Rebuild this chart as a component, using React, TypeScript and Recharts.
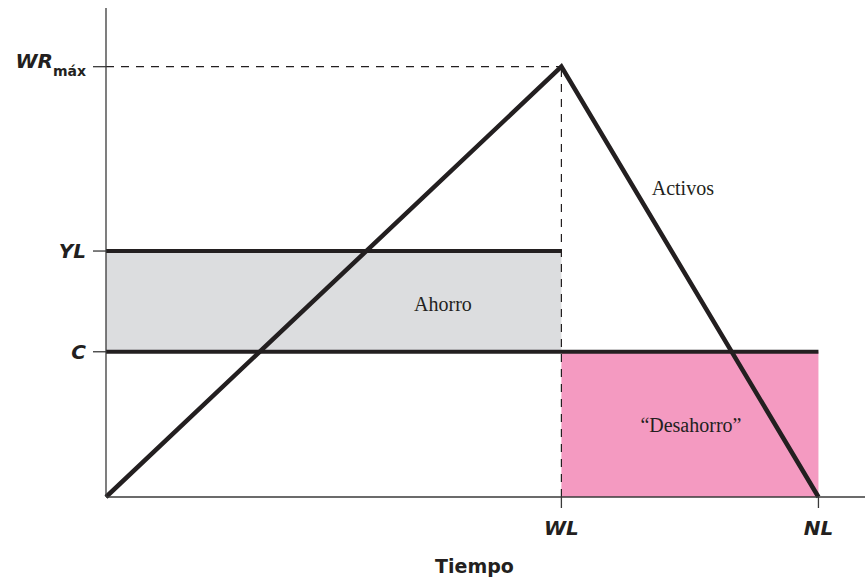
import {
  ComposedChart,
  Line,
  ReferenceArea,
  ReferenceDot,
  ReferenceLine,
  XAxis,
  YAxis
} from "recharts";

// time axis (years) and stock of wealth levels
const WL = 45;
const NL = 70.4;
const T_MAX = 75;

const WR_MAX = 88;
const YL = 50.3;
const C = 29.7;

const assetT = [0, WL, NL];
const assetW = [0, WR_MAX, 0];

const xTicks = [WL, NL];
const xTickNames = ["WL", "NL"];
const yTicks = [C, YL, WR_MAX];
const yTickNames = ["C", "YL", "WR"];

// annotation anchors, in data units
const notes = [
  { text: "Activos", t: 57, v: 63.2 },
  { text: "Ahorro", t: 33.3, v: 39.5 },
  { text: "\u201cDesahorro\u201d", t: 57.8, v: 14.7 }
];

const INK = "#231f20";
const AXIS = "#3a3a3a";
const SANS = "'DejaVu Sans', Lato, sans-serif";
const SERIF = "'Liberation Serif', 'DejaVu Serif', serif";

const data = assetT.map((t, i) => ({ t, w: assetW[i] }));

function YTick(props: any) {
  const { x, y, payload } = props;
  const idx = yTicks.indexOf(payload.value);
  const name = yTickNames[idx] ?? "";
  if (name === "WR") {
    return (
      <text x={x} y={y + 1} textAnchor="end" fill={INK} fontFamily={SANS} fontWeight={700}>
        <tspan fontSize={20} fontStyle="italic">WR</tspan>
        <tspan fontSize={14} dy={8}>máx</tspan>
      </text>
    );
  }
  return (
    <text
      x={x}
      y={y}
      dy={7}
      textAnchor="end"
      fill={INK}
      fontFamily={SANS}
      fontSize={20}
      fontWeight={700}
      fontStyle="italic"
    >
      {name}
    </text>
  );
}

function XTick(props: any) {
  const { x, y, payload } = props;
  const idx = xTicks.indexOf(payload.value);
  return (
    <text
      x={x}
      y={y}
      dy={19}
      textAnchor="middle"
      fill={INK}
      fontFamily={SANS}
      fontSize={20}
      fontWeight={700}
      fontStyle="italic"
    >
      {xTickNames[idx] ?? ""}
    </text>
  );
}

export default function App() {
  return (
    <div style={{ position: "absolute", left: 0, top: 0, width: 865, height: 579, background: "#fff" }}>
      <ComposedChart
        width={865}
        height={579}
        data={data}
        margin={{ top: 8, right: 0, bottom: 0, left: 0 }}
      >
        <XAxis
          type="number"
          dataKey="t"
          domain={[0, T_MAX]}
          ticks={xTicks}
          tick={<XTick />}
          tickSize={11}
          tickMargin={8}
          height={82}
          axisLine={{ stroke: AXIS, strokeWidth: 1.3 }}
          tickLine={{ stroke: AXIS, strokeWidth: 1.3 }}
          label={{
            value: "Tiempo",
            position: "insideBottom",
            offset: 6,
            dx: -11,
            fill: INK,
            fontFamily: SANS,
            fontSize: 19,
            fontWeight: 700
          }}
        />
        <YAxis
          type="number"
          domain={[0, 100]}
          ticks={yTicks}
          tick={<YTick />}
          tickSize={13}
          tickMargin={7}
          width={106}
          axisLine={{ stroke: AXIS, strokeWidth: 1.3 }}
          tickLine={{ stroke: AXIS, strokeWidth: 1.3 }}
        />

        <ReferenceArea x1={0} x2={WL} y1={C} y2={YL} fill="#dcdddf" fillOpacity={1} stroke="none" />
        <ReferenceArea x1={WL} x2={NL} y1={0} y2={C} fill="#f49ac1" fillOpacity={1} stroke="none" />

        <ReferenceLine
          segment={[{ x: 0, y: WR_MAX }, { x: WL, y: WR_MAX }]}
          stroke={INK}
          strokeWidth={1.2}
          strokeDasharray="8 7"
        />
        <ReferenceLine
          segment={[{ x: WL, y: 0 }, { x: WL, y: WR_MAX }]}
          stroke={INK}
          strokeWidth={1.2}
          strokeDasharray="8 7"
        />
        <ReferenceLine segment={[{ x: 0, y: YL }, { x: WL, y: YL }]} stroke={INK} strokeWidth={4} />
        <ReferenceLine segment={[{ x: 0, y: C }, { x: NL, y: C }]} stroke={INK} strokeWidth={4} />

        <Line
          type="linear"
          dataKey="w"
          stroke={INK}
          strokeWidth={4.5}
          strokeLinejoin="miter"
          dot={false}
          activeDot={false}
          isAnimationActive={false}
        />

        {notes.map((n) => (
          <ReferenceDot
            key={n.text}
            x={n.t}
            y={n.v}
            r={1}
            fill="none"
            stroke="none"
            label={{
              value: n.text,
              position: "center",
              fill: INK,
              fontFamily: SERIF,
              fontSize: 20
            }}
          />
        ))}
      </ComposedChart>
    </div>
  );
}
